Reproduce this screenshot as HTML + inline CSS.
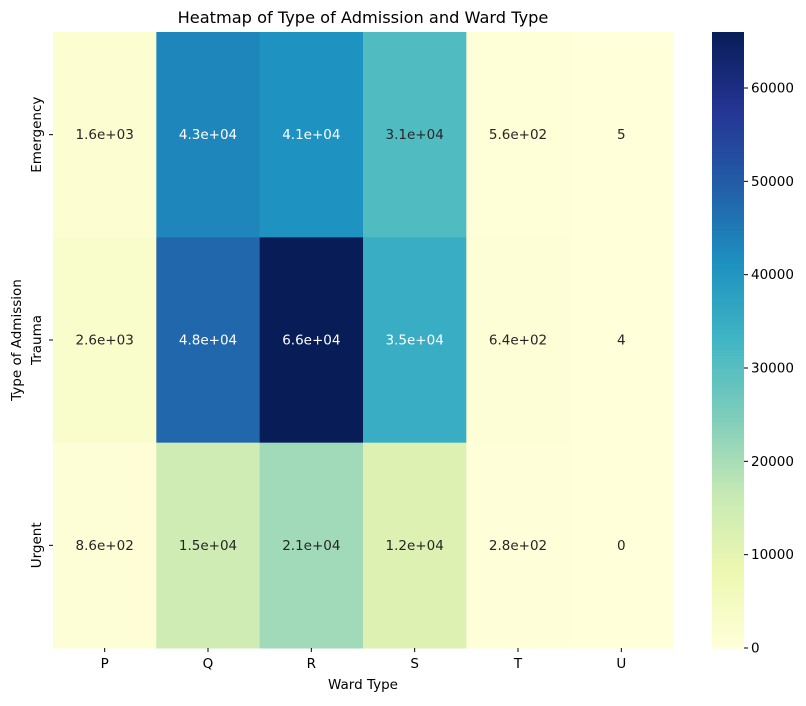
<!DOCTYPE html>
<html><head><meta charset="utf-8"><style>
body{margin:0;background:#fff;font-family:"Liberation Sans","DejaVu Sans",sans-serif;}
svg text{font-family:"DejaVu Sans","Liberation Sans",sans-serif;}
</style></head><body>
<svg id="chart" width="806" height="701"></svg>
<script>
const cols=["P","Q","R","S","T","U"];
const rows=["Emergency","Trauma","Urgent"];
const emergency=[1600,43000,41000,31000,560,5];
const trauma=[2600,48000,66000,35000,640,4];
const urgent=[860,15000,21000,12000,280,0];
const emergencyLabels=["1.6e+03","4.3e+04","4.1e+04","3.1e+04","5.6e+02","5"];
const traumaLabels=["2.6e+03","4.8e+04","6.6e+04","3.5e+04","6.4e+02","4"];
const urgentLabels=["8.6e+02","1.5e+04","2.1e+04","1.2e+04","2.8e+02","0"];
const cbTicks=[0,10000,20000,30000,40000,50000,60000];
const vmax=66000;
const values=[emergency,trauma,urgent];
const labels=[emergencyLabels,traumaLabels,urgentLabels];
const NS="http://www.w3.org/2000/svg";
const svg=document.getElementById('chart');
const X0=53,X1=673,Y0=32,Y1=648;
const FS='13.5';
const cw=(X1-X0)/cols.length, rh=(Y1-Y0)/rows.length;
const xPos=i=>X0+i*cw, yPos=j=>Y0+j*rh;
const stops=["#ffffd9","#edf8b1","#c7e9b4","#7fcdbb","#41b6c4","#1d91c0","#225ea8","#253494","#081d58"].map(h=>[parseInt(h.slice(1,3),16),parseInt(h.slice(3,5),16),parseInt(h.slice(5,7),16)]);
function cmap(v){let t=Math.max(0,Math.min(1,v/vmax))*(stops.length-1);let i=Math.min(Math.floor(t),stops.length-2),f=t-i;return stops[i].map((c,k)=>Math.round(c+(stops[i+1][k]-c)*f));}
function lum(c){const l=c.map(x=>{x/=255;return x<=0.03928?x/12.92:Math.pow((x+0.055)/1.055,2.4)});return 0.2126*l[0]+0.7152*l[1]+0.0722*l[2];}
function mk(tag,attrs,txt){const e=document.createElementNS(NS,tag);for(const k in attrs)e.setAttribute(k,attrs[k]);if(txt!==undefined)e.textContent=txt;svg.appendChild(e);return e;}
values.forEach((row,j)=>row.forEach((v,i)=>{
  const c=cmap(v);
  const r=mk('rect',{x:xPos(i),y:yPos(j),width:cw+0.5,height:rh+0.5,fill:`rgb(${c})`});
  
  
  const t=mk('text',{x:xPos(i)+cw/2,y:yPos(j)+rh/2+4.5,'text-anchor':'middle','font-size':FS,fill:lum(c)>0.408?'#262626':'#ffffff'},labels[j][i]);
  
  
}));
cols.forEach((c,i)=>{
  mk('line',{x1:xPos(i)+cw/2,x2:xPos(i)+cw/2,y1:Y1,y2:Y1+4,stroke:'#000'});
  const t=mk('text',{x:xPos(i)+cw/2,y:Y1+20,'text-anchor':'middle','font-size':FS,fill:'#000'},c);
  
  
});
rows.forEach((r,j)=>{
  const cy=yPos(j)+rh/2;
  mk('line',{x1:X0-4,x2:X0,y1:cy,y2:cy,stroke:'#000'});
  const t=mk('text',{x:0,y:0,'text-anchor':'middle','font-size':FS,fill:'#000',transform:`translate(41,${cy}) rotate(-90)`},r);
  
  
});
let t=mk('text',{x:(X0+X1)/2,y:689,'text-anchor':'middle','font-size':FS},'Ward Type');

t=mk('text',{x:0,y:0,'text-anchor':'middle','font-size':FS,transform:`translate(21,${(Y0+Y1)/2}) rotate(-90)`},'Type of Admission');

t=mk('text',{x:(X0+X1)/2,y:23,'text-anchor':'middle','font-size':'16.2'},'Heatmap of Type of Admission and Ward Type');

const CX=712,CW=32,N=200;
for(let k=0;k<N;k++){const v=vmax*(k+0.5)/N;const c=cmap(v);const yy=Y1-(k+1)*(Y1-Y0)/N;
  const r=mk('rect',{x:CX,y:yy,width:CW,height:(Y1-Y0)/N+0.6,fill:`rgb(${c})`});
  }
const cy=v=>Y1-v/vmax*(Y1-Y0);
cbTicks.forEach(v=>{
  mk('line',{x1:CX+CW,x2:CX+CW+4,y1:cy(v),y2:cy(v),stroke:'#000'});
  const tt=mk('text',{x:CX+CW+7,y:cy(v)+4.5,'font-size':FS},String(v));
  
});
</script>
</body></html>
